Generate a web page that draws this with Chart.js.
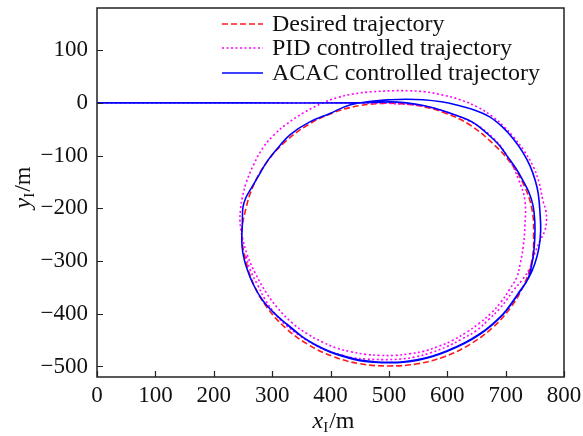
<!DOCTYPE html>
<html>
<head>
<meta charset="utf-8">
<script src="https://cdn.jsdelivr.net/npm/chart.js@4"></script>
<style>
  html, body { margin: 0; padding: 0; background: #fff; }
  #wrap { width: 583px; height: 436px; }
</style>
</head>
<body>
<div id="wrap"><canvas id="traj"></canvas></div>
<script>
// tick labels
const xTicks = [0, 100, 200, 300, 400, 500, 600, 700, 800];
const yTicks = [-500, -400, -300, -200, -100, 0, 100];

// desired trajectory
const desiredX = [500, 549, 596, 639, 677, 708, 731, 745, 748, 745, 731, 708, 677, 639, 596, 549, 500,
                  451, 404, 361, 323, 292, 269, 255, 248, 255, 269, 292, 323, 361, 404, 451, 500];
const desiredY = [0, -5, -19, -42, -76, -113, -155, -201, -250, -299, -346, -389, -427, -458, -481, -495, -499,
                  -495, -481, -458, -427, -389, -346, -299, -250, -201, -154, -111, -73, -42, -19, -5, 0];

// PID controlled trajectory: straight run, tight first lap, wide second lap
const pidX = [0, 250, 450, 500, 559, 600, 644, 680, 705, 722, 733, 733, 730, 725, 719, 706, 692, 675, 655, 633, 610, 585, 560, 535, 510, 485, 460, 435, 410, 385, 360, 335, 310, 290, 272, 258, 249, 245, 246, 249,
              256, 268, 285, 304, 325, 355, 387, 412, 439, 470, 507, 535, 562, 592, 622, 652, 679, 697, 713, 731, 747, 757, 764, 769, 770, 767, 759, 750, 742, 729, 713, 703, 690, 670, 650, 625, 600, 572, 545, 519, 490, 462, 440, 418, 395, 370, 345, 323, 305, 288, 275, 263, 255];
const pidY = [0, 0, 0, -1, -6, -18, -38, -68, -105, -145, -185, -235, -274, -305, -331, -355, -378, -399, -418, -435, -450, -462, -471, -476, -479, -479, -477, -472, -465, -453, -438, -418, -390, -360, -325, -290, -255, -225, -200, -179,
              -150, -118, -84, -60, -40, -18, 0, 10, 17, 21, 23, 23, 21, 15, 6, -8, -27, -45, -64, -90, -120, -150, -186, -205, -223, -243, -261, -285, -312, -335, -356, -372, -390, -412, -432, -448, -462, -474, -482, -486, -487, -486, -484, -478, -470, -457, -440, -421, -400, -373, -345, -318, -290];

// ACAC controlled trajectory: straight run, tight first lap, wider second lap
const acacX = [0, 250, 440, 502, 530, 559, 590, 616, 644, 668, 688, 702, 718, 730, 740, 747, 750, 750, 748, 745, 739, 725, 710, 696, 677, 656, 630, 600, 575, 550, 525, 502, 475, 450, 425, 400, 375, 353, 325, 300, 284, 268, 256, 250, 248, 249, 250, 255, 262, 276, 292, 311, 331, 363, 399, 433,
               470, 502, 530, 559, 590, 616, 645, 672, 694, 713, 729, 742, 751, 756, 759, 760, 757, 750, 739, 725, 710, 696, 677, 656, 630, 600, 575, 550, 525, 502, 475, 450, 425, 400, 375, 352, 325];
const acacY = [0, 0, 0, 2, 0, -5, -14, -24, -37, -58, -79, -100, -125, -148, -170, -195, -225, -255, -285, -305, -332, -357, -381, -401, -421, -439, -456, -471, -481, -488, -492, -493, -492, -489, -482, -473, -460, -445, -420, -395, -375, -345, -312, -285, -261, -230, -198, -180, -166, -140, -110, -84, -60, -37, -20, -4,
               3, 6, 7, 6, 2, -4, -13, -26, -45, -68, -93, -120, -148, -173, -210, -243, -275, -305, -333, -356, -380, -400, -420, -438, -455, -470, -480, -487, -491, -492, -491, -488, -481, -472, -459, -444, -419];

const serif = '"Liberation Serif", "DejaVu Serif", serif';

function pts(xs, ys) {
    return xs.map(function (x, i) { return { x: x, y: ys[i] }; });
}

const frameAndTicks = {
    id: 'frameAndTicks',
    afterDraw: function (chart) {
        const c = chart.ctx;
        const a = chart.chartArea;
        c.save();
        c.strokeStyle = '#222';
        c.lineWidth = 1.5;
        c.strokeRect(a.left, a.top, a.right - a.left, a.bottom - a.top);
        c.lineWidth = 1.2;
        c.beginPath();
        xTicks.forEach(function (v) {
            const px = Math.round(chart.scales.x.getPixelForValue(v)) + 0.5;
            c.moveTo(px, a.bottom);
            c.lineTo(px, a.bottom - 6);
        });
        yTicks.forEach(function (v) {
            const py = Math.round(chart.scales.y.getPixelForValue(v)) + 0.5;
            c.moveTo(a.left, py);
            c.lineTo(a.left + 6, py);
        });
        c.stroke();

        // legend
        const rows = [24, 48, 73];
        c.font = '24px ' + serif;
        c.textBaseline = 'middle';
        c.fillStyle = '#111';
        chart.data.datasets.forEach(function (ds, i) {
            c.strokeStyle = ds.borderColor;
            c.lineWidth = ds.borderWidth;
            c.setLineDash(ds.borderDash || []);
            c.beginPath();
            c.moveTo(222, rows[i]);
            c.lineTo(263, rows[i]);
            c.stroke();
            c.fillText(ds.label, 272, rows[i] + 1);
        });
        c.setLineDash([]);

        // axis titles: x_I/m and y_I/m
        function title(letter, cx, cy, rot) {
            c.save();
            c.translate(cx, cy);
            c.rotate(rot);
            c.font = 'italic 24px ' + serif;
            const w1 = c.measureText(letter).width;
            c.font = '15px ' + serif;
            const w2 = c.measureText('I').width;
            c.font = '24px ' + serif;
            const w3 = c.measureText('/m').width;
            const x0 = -(w1 + w2 + w3) / 2;
            c.textBaseline = 'alphabetic';
            c.font = 'italic 24px ' + serif;
            c.fillText(letter, x0, 7);
            c.font = '15px ' + serif;
            c.fillText('I', x0 + w1, 11);
            c.font = '24px ' + serif;
            c.fillText('/m', x0 + w1 + w2 + 1, 7);
            c.restore();
        }
        title('x', 333, 421, 0);
        title('y', 23, 188, -Math.PI / 2);
        c.restore();
    }
};

function noPad(s) {
    s.paddingTop = 0;
    s.paddingBottom = 0;
    s.paddingLeft = 0;
    s.paddingRight = 0;
}

new Chart(document.getElementById('traj'), {
    type: 'scatter',
    data: {
        datasets: [{
            label: 'Desired trajectory',
            data: pts(desiredX, desiredY),
            showLine: true,
            order: 3,
            borderColor: '#ff1a1a',
            borderWidth: 1.6,
            borderDash: [6, 3],
            pointRadius: 0,
            tension: 0.4,
            fill: false
        }, {
            label: 'PID controlled trajectory',
            data: pts(pidX, pidY),
            showLine: true,
            order: 2,
            borderColor: '#ff00ff',
            borderWidth: 1.6,
            borderDash: [2, 2.5],
            pointRadius: 0,
            tension: 0.4,
            fill: false
        }, {
            label: 'ACAC controlled trajectory',
            data: pts(acacX, acacY),
            showLine: true,
            order: 1,
            borderColor: '#0000ff',
            borderWidth: 1.6,
            pointRadius: 0,
            tension: 0.4,
            fill: false
        }]
    },
    options: {
        responsive: true,
        maintainAspectRatio: false,
        animation: false,
        layout: { autoPadding: false, padding: { top: 8, right: 19, left: 0, bottom: 0 } },
        plugins: {
            legend: { display: false },
            tooltip: { enabled: false }
        },
        scales: {
            x: {
                type: 'linear',
                min: 0,
                max: 800,
                afterBuildTicks: function (s) { s.ticks = xTicks.map(function (v) { return { value: v }; }); },
                afterFit: function (s) { s.height = 59; noPad(s); },
                grid: { display: false, drawTicks: false },
                border: { display: false },
                ticks: { color: '#111', padding: 5, maxRotation: 0, font: { family: serif, size: 23 } }
            },
            y: {
                type: 'linear',
                min: -520,
                max: 180,
                afterBuildTicks: function (s) { s.ticks = yTicks.map(function (v) { return { value: v }; }); },
                afterFit: function (s) { s.width = 97; noPad(s); },
                grid: { display: false, drawTicks: false },
                border: { display: false },
                ticks: {
                    color: '#111', padding: 9, font: { family: serif, size: 23 },
                    callback: function (v) { return v < 0 ? '\u2212' + Math.abs(v) : String(v); }
                }
            }
        }
    },
    plugins: [frameAndTicks]
});
</script>
</body>
</html>
